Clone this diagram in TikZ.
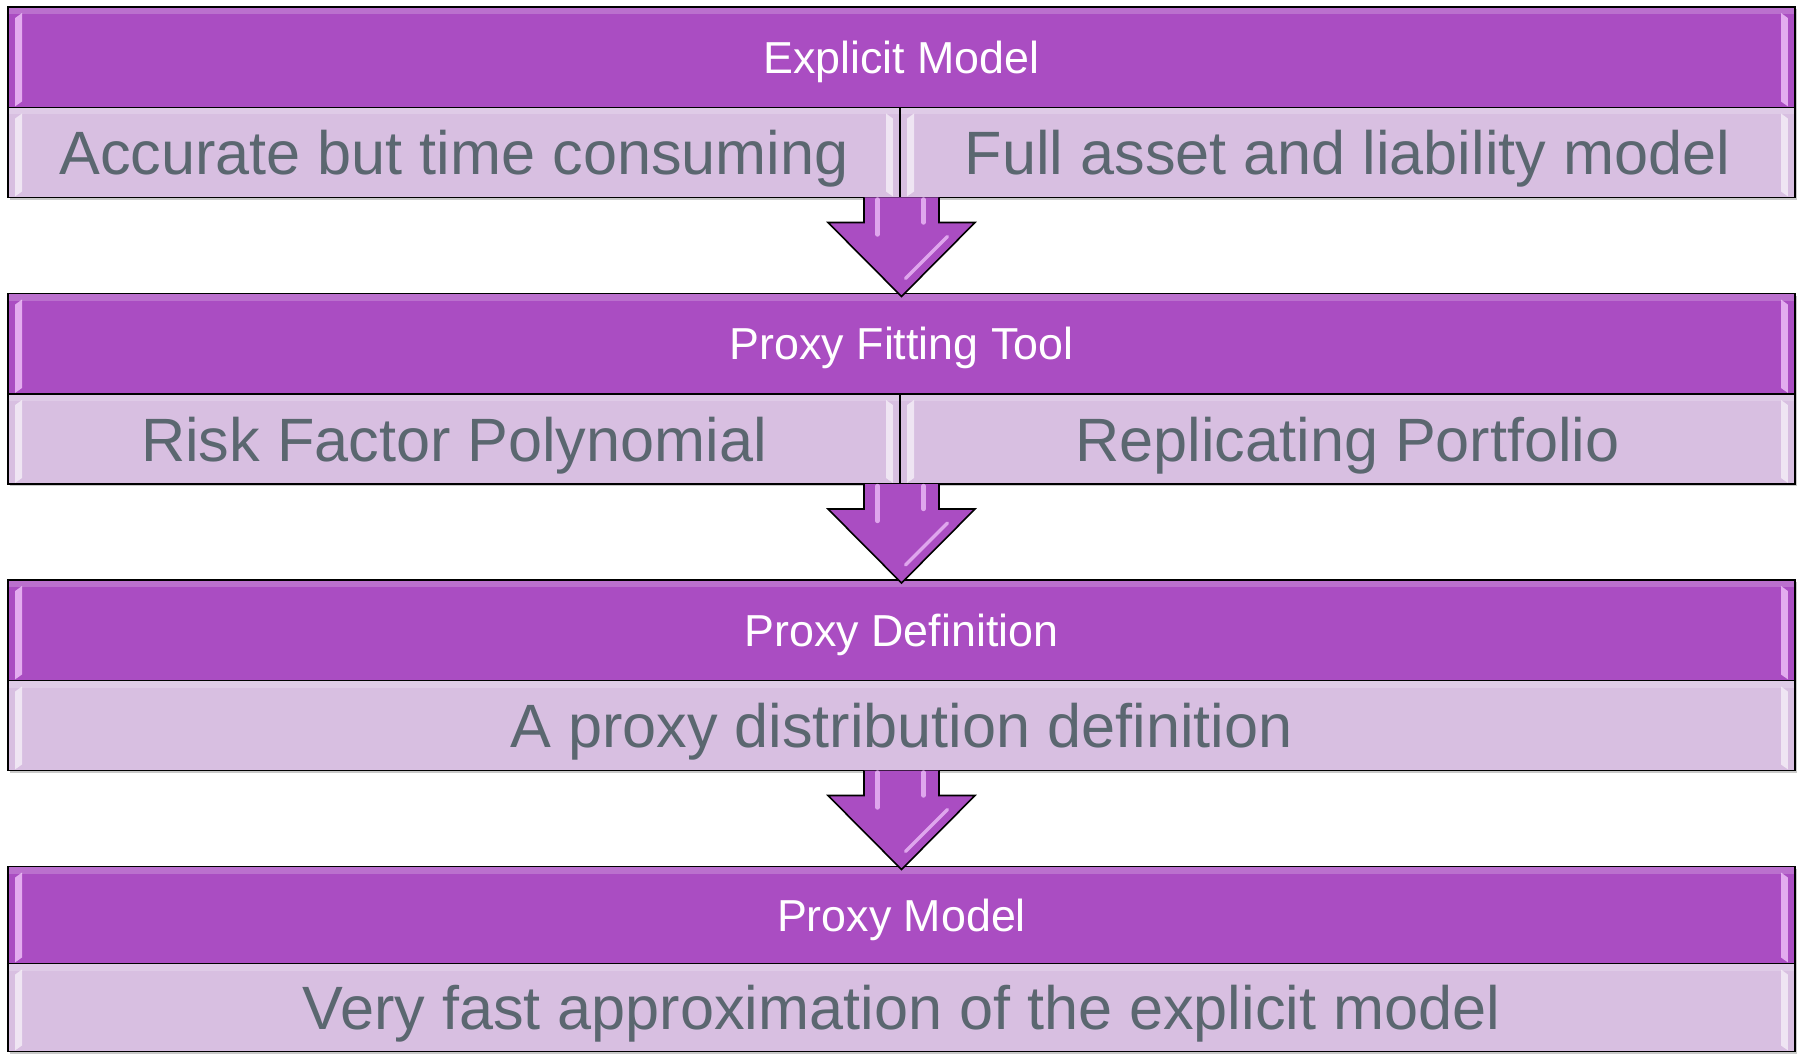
\documentclass[tikz,border=0pt]{standalone}
\usepackage{fontspec}
\setmainfont{Liberation Sans}
\usetikzlibrary{positioning,calc,shadows}
\definecolor{hdrpurple}{HTML}{AA4DC2}
\definecolor{subpurple}{HTML}{D8BFE1}
\definecolor{subtext}{HTML}{5B6770}
\definecolor{shinepink}{HTML}{EDBDF8}
\tikzset{
  hdr/.style={draw=black, line width=0.8pt, fill=hdrpurple, text=white,
              minimum width=893.5pt, minimum height=50.25pt, inner sep=0pt, outer sep=0pt,
              font=\fontsize{22.4}{26}\selectfont, text height=16pt, text depth=0pt,
              anchor=north west, boxshadow},
  subbox/.style={draw=black, line width=0.8pt, fill=subpurple, text=subtext,
              minimum height=45pt, inner sep=0pt, outer sep=0pt,
              font=\fontsize{30.6}{36}\selectfont, text height=22pt, text depth=0pt,
              anchor=north west, boxshadow},
  boxshadow/.style={drop shadow={shadow xshift=0.8pt, shadow yshift=-1.2pt, opacity=0.3, fill=black!70}},
  flowarrow/.style={draw=black, line width=0.8pt, fill=hdrpurple, line join=miter},
  hdrshine/.style={fill=shinepink, opacity=0.85},
  subshine/.style={fill=white, opacity=0.6},
  arrowshine/.style={draw=shinepink, line width=2.2pt, opacity=0.8, line cap=round},
}
\newcommand{\shine}[2]{%
  \fill[#2] ($(#1.north west)+(3.6pt,-5.5pt)$) -- ($(#1.north west)+(7pt,-3pt)$)
     -- ($(#1.south west)+(7pt,3pt)$) -- ($(#1.south west)+(3.6pt,0.6pt)$) -- cycle;
  \fill[#2] ($(#1.north east)+(-3.6pt,-5.5pt)$) -- ($(#1.north east)+(-7pt,-3pt)$)
     -- ($(#1.south east)+(-7pt,3pt)$) -- ($(#1.south east)+(-3.6pt,0.6pt)$) -- cycle;
  \fill[white, opacity=0.2]
     ($(#1.north west)+(0.4pt,-0.4pt)$) rectangle ($(#1.north east)+(-0.4pt,-3.5pt)$);
}
\newcommand{\blockarrow}[2]{%
  \draw[flowarrow] let \p1=(#1), \p2=(#2) in
    (\x1-18.75pt,\y1) -- (\x1-18.75pt,\y2+37pt) -- (\x1-36.75pt,\y2+37pt) -- (\x2,\y2)
    -- (\x1+36.75pt,\y2+37pt) -- (\x1+18.75pt,\y2+37pt) -- (\x1+18.75pt,\y1);
  \draw[arrowshine] ($(#1)+(-12pt,-1pt)$) -- ($(#2)+(-12pt,31pt)$);
  \draw[arrowshine] ($(#1)+(11pt,-1pt)$) -- ($(#2)+(11pt,37pt)$);
  \draw[arrowshine, line width=1.6pt] ($(#2)+(23pt,30pt)$) -- ($(#2)+(2pt,9pt)$);
}
\begin{document}
\begin{tikzpicture}[x=0.5pt,y=-0.5pt]
\useasboundingbox (0,0) rectangle (1801,1054);
\node[hdr] (hdr1) at (8,7) {Explicit Model};
\node[subbox, minimum width=446pt] (subl1) at (hdr1.south west) {Accurate but time consuming};
\node[subbox, minimum width=447.5pt] (subr1) at (subl1.north east) {Full asset and liability model};
\node[hdr] (hdr2) at (8,293.5) {Proxy Fitting Tool};
\node[subbox, minimum width=446pt] (subl2) at (hdr2.south west) {Risk Factor Polynomial};
\node[subbox, minimum width=447.5pt] (subr2) at (subl2.north east) {Replicating Portfolio};
\node[hdr] (hdr3) at (8,580) {Proxy Definition};
\node[subbox, minimum width=893.5pt] (sub3) at (hdr3.south west) {A proxy distribution definition};
\node[hdr, minimum height=48.5pt] (hdr4) at (8,866.5) {Proxy Model};
\node[subbox, minimum width=893.5pt, minimum height=44pt] (sub4) at (hdr4.south west) {Very fast approximation of the explicit model};
\shine{hdr1}{hdrshine}
\shine{hdr2}{hdrshine}
\shine{hdr3}{hdrshine}
\shine{hdr4}{hdrshine}
\shine{subl1}{subshine}
\shine{subr1}{subshine}
\shine{subl2}{subshine}
\shine{subr2}{subshine}
\shine{sub3}{subshine}
\shine{sub4}{subshine}
\coordinate (a1) at (hdr1.center |- subl1.south);
\coordinate (t1) at ($(hdr2.north)+(0,-1.5pt)$);
\coordinate (a2) at (hdr2.center |- subl2.south);
\coordinate (t2) at ($(hdr3.north)+(0,-1.5pt)$);
\coordinate (a3) at (hdr3.center |- sub3.south);
\coordinate (t3) at ($(hdr4.north)+(0,-1.5pt)$);
\blockarrow{a1}{t1}
\blockarrow{a2}{t2}
\blockarrow{a3}{t3}
\end{tikzpicture}
\end{document}
